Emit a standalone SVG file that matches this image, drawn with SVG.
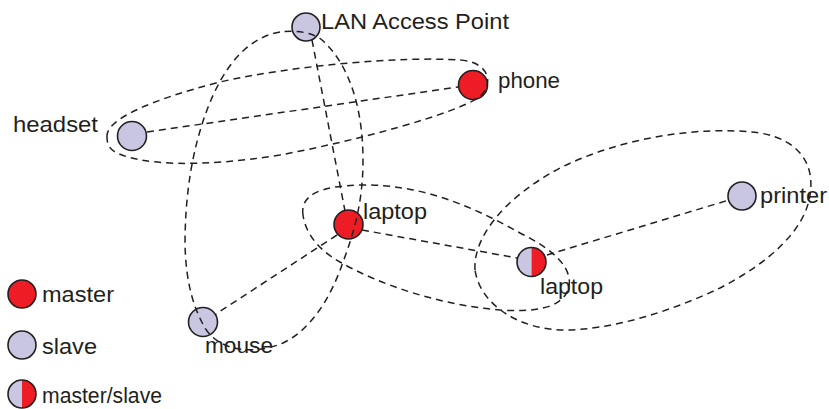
<svg xmlns="http://www.w3.org/2000/svg" width="829" height="409" viewBox="0 0 829 409">
  <style>
    .dev { stroke: #231f20; stroke-width: 1.6; }
    .master { fill: #ee1c25; }
    .slave { fill: #c8c6e0; }
    .ring { fill: none; stroke: #231f20; stroke-width: 1.6; }
    .lbl { font-family: "Liberation Sans", Arial, sans-serif; font-size: 22px; fill: #231f20; }
    .link { fill: none; stroke: #231f20; stroke-width: 1.5; stroke-dasharray: 7 5; }
  </style>
  <rect width="829" height="409" fill="#ffffff"/>

  <!-- devices -->
  <g id="lan-access-point">
    <circle class="dev slave" cx="306" cy="27" r="14"/>
    <text class="lbl" x="321" y="29" textLength="188" lengthAdjust="spacingAndGlyphs">LAN Access Point</text>
  </g>
  <g id="phone">
    <circle class="dev master" cx="473" cy="85" r="14.5"/>
    <text class="lbl" x="498" y="88" textLength="62" lengthAdjust="spacingAndGlyphs">phone</text>
  </g>
  <g id="headset">
    <circle class="dev slave" cx="132" cy="136" r="14.5"/>
    <text class="lbl" x="13" y="132" textLength="85" lengthAdjust="spacingAndGlyphs">headset</text>
  </g>
  <g id="laptop-master">
    <circle class="dev master" cx="348.5" cy="224.5" r="14.5"/>
    <text class="lbl" x="363" y="219" textLength="64" lengthAdjust="spacingAndGlyphs">laptop</text>
  </g>
  <g id="laptop-bridge">
    <path class="slave" d="M531.5,247.5 A14.5,14.5 0 0 0 531.5,276.5 Z"/>
    <path class="master" d="M531.5,247.5 A14.5,14.5 0 0 1 531.5,276.5 Z"/>
    <circle class="ring" cx="531.5" cy="262" r="14.5"/>
    <text class="lbl" x="540" y="294" textLength="63" lengthAdjust="spacingAndGlyphs">laptop</text>
  </g>
  <g id="printer">
    <circle class="dev slave" cx="742" cy="196" r="14"/>
    <text class="lbl" x="760" y="203" textLength="67" lengthAdjust="spacingAndGlyphs">printer</text>
  </g>
  <g id="mouse">
    <circle class="dev slave" cx="203" cy="322" r="14.5"/>
    <text class="lbl" x="205" y="353" textLength="68" lengthAdjust="spacingAndGlyphs">mouse</text>
  </g>

  <!-- legend -->
  <g id="legend-master">
    <circle class="dev master" cx="22" cy="294" r="14"/>
    <text class="lbl" x="42" y="302" textLength="72" lengthAdjust="spacingAndGlyphs">master</text>
  </g>
  <g id="legend-slave">
    <circle class="dev slave" cx="22" cy="345" r="14"/>
    <text class="lbl" x="42" y="354" textLength="55" lengthAdjust="spacingAndGlyphs">slave</text>
  </g>
  <g id="legend-master-slave">
    <path class="slave" d="M22,380 A14,14 0 0 0 22,408 Z"/>
    <path class="master" d="M22,380 A14,14 0 0 1 22,408 Z"/>
    <circle class="ring" cx="22" cy="394" r="14"/>
    <text class="lbl" x="42" y="403" textLength="120" lengthAdjust="spacingAndGlyphs">master/slave</text>
  </g>

  <!-- links and piconet outlines -->
  <g id="connectors">
    <line class="link" x1="147" y1="132" x2="458" y2="87"/>
    <line class="link" x1="312" y1="40" x2="345" y2="211"/>
    <line class="link" x1="337" y1="235" x2="216" y2="314"/>
    <line class="link" x1="362" y1="230" x2="517" y2="258"/>
    <line class="link" x1="547" y1="255" x2="729" y2="200"/>

    <!-- headset / phone piconet -->
    <path class="link" d="M107,137 C105,120 150,100 220,82 C290,66 400,56 460,60 C490,62 495,85 478,98 C450,115 360,140 280,155 C200,168 140,165 115,152 C108,148 107,142 107,137 Z"/>
    <!-- access point / mouse piconet -->
    <path class="link" d="M280,32 C245,38 222,70 207,110 C192,150 185,195 185,245 C186,280 192,305 205,328 C220,352 255,355 283,343 C310,330 330,300 343,262 C355,230 363,200 363,160 C363,110 350,65 322,40 C312,32 295,30 280,32 Z"/>
    <!-- laptop / laptop piconet -->
    <path class="link" d="M303,215 C300,195 320,186 360,185 C420,184 470,205 520,233 C555,250 575,270 568,290 C560,310 530,312 500,310 C440,305 380,285 340,262 C315,248 305,230 303,215 Z"/>
    <!-- laptop / printer piconet -->
    <path class="link" d="M475,270 C473,240 500,200 560,168 C620,138 700,125 760,133 C800,140 815,165 810,195 C805,230 770,262 720,288 C670,312 610,330 565,330 C520,330 480,305 475,270 Z"/>
  </g>
</svg>
